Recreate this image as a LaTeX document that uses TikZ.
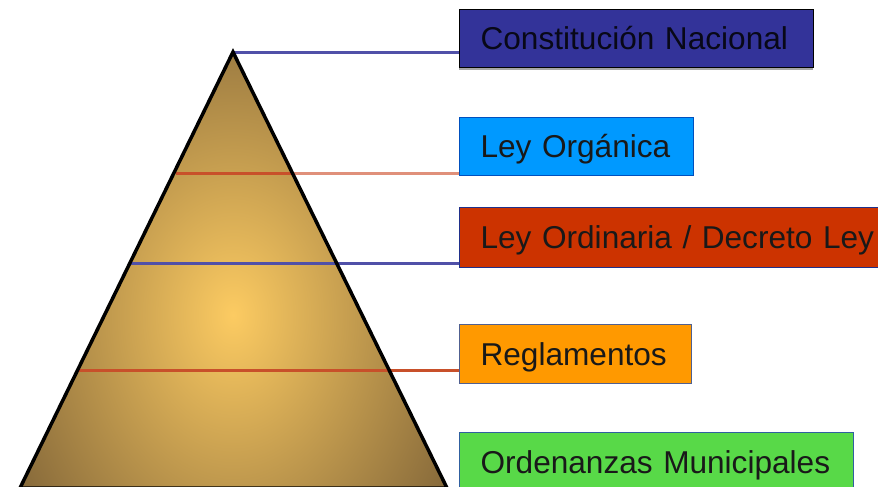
\documentclass[tikz,border=0pt]{standalone}
\usepackage{fontspec}
\setmainfont{Liberation Sans}
\definecolor{pyrout}{HTML}{86693A}
\definecolor{pyrin}{HTML}{FCCB62}
\definecolor{lblue}{HTML}{5050A8}
\definecolor{ldark}{HTML}{C8502A}
\definecolor{lsalmon}{HTML}{E0907A}
\definecolor{lred}{HTML}{D05A38}
\definecolor{bnavy}{HTML}{333399}
\definecolor{bsky}{HTML}{0099FF}
\definecolor{bred}{HTML}{CC3300}
\definecolor{borange}{HTML}{FF9900}
\definecolor{bgreen}{HTML}{58D948}
\begin{document}
\begin{tikzpicture}[x=1pt,y=-1pt,
  lvl/.style={rectangle, anchor=north west, inner xsep=21pt, inner ysep=0pt,
    align=left, font=\fontsize{31.6}{36}\selectfont, text height=22.5pt, text depth=0pt,
    line width=1.2pt},
  conn/.style={line width=3pt}
]
\clip (0,0) rectangle (878,487);
\fill[white] (0,0) rectangle (878,487);
% pyramid
\coordinate (A) at (233,52);
\coordinate (BL) at (20,488);
\coordinate (BR) at (447,488);
\begin{scope}
  \clip (A) -- (BL) -- (BR) -- cycle;
  \fill[pyrout] (0,40) rectangle (460,490);
  \shade[inner color=pyrin, outer color=pyrout] (233,315) ellipse [x radius=250, y radius=330];
\end{scope}
% boxes
\fill[gray!70] (459,12) rectangle (813,70);
\node[lvl, fill=bnavy, draw=black, text width=312pt, minimum height=58pt, text=black!85!bnavy] (b1) at (459,9) {Constitución Nacional};
\node[lvl, fill=bsky, draw={rgb,255:red,0;green,80;blue,190}, text width=192pt, minimum height=58pt, text=black!90] (b2) at (459,117) {Ley Orgánica};
\node[lvl, fill=bred, draw={rgb,255:red,32;green,48;blue,138}, text width=420pt, minimum height=60pt, text=black!90] (b3) at (459,207) {Ley Ordinaria / Decreto Ley};
\node[lvl, fill=borange, draw={rgb,255:red,80;green,96;blue,144}, text width=190pt, minimum height=59pt, text=black!90] (b4) at (459,324) {Reglamentos};
\node[lvl, fill=bgreen, draw={rgb,255:red,48;green,96;blue,160}, text width=352pt, minimum height=60pt, text=black!90] (b5) at (459,432) {Ordenanzas Municipales};
% connector points on the pyramid
\coordinate (P1) at (233,53);
\coordinate (L2) at (176,173);
\coordinate (R2) at (293,173);
\coordinate (L3) at (131,263);
\coordinate (L4) at (76,370);
% connectors
\draw[conn, lblue] (P1) -- (P1 -| b1.west);
\draw[conn, ldark] (L2) -- (R2);
\draw[conn, lsalmon] (R2) -- (R2 -| b2.west);
\draw[conn, lblue] (L3) -- (L3 -| b3.west);
\draw[conn, ldark] (L4) -- (L4 -| b4.west);
% pyramid outline
\draw[line width=3.5pt, line join=miter] (A) -- (BL) -- (BR) -- cycle;
\end{tikzpicture}
\end{document}
